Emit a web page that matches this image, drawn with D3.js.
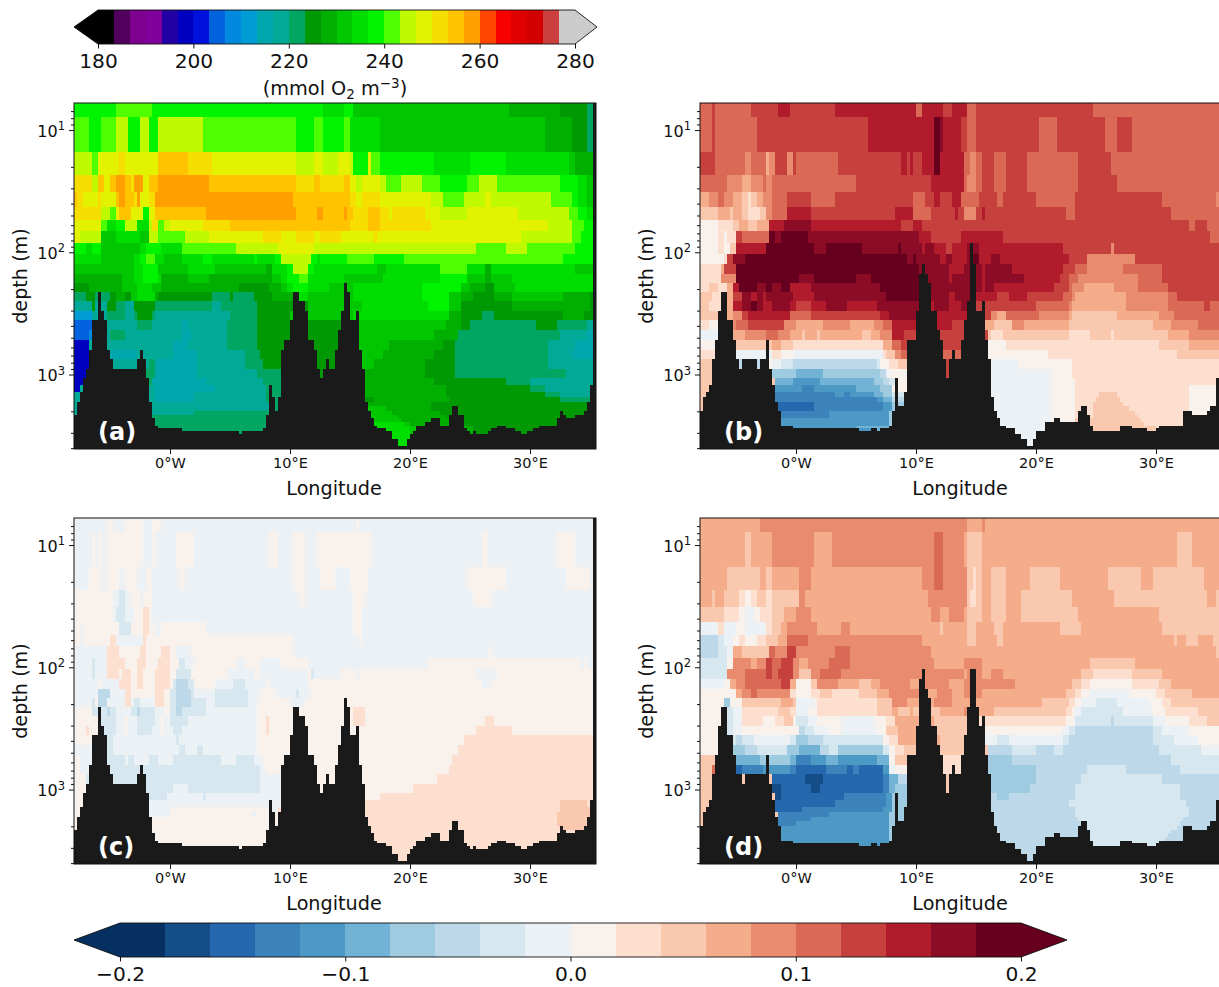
<!DOCTYPE html>
<html><head><meta charset="utf-8">
<style>html,body{margin:0;padding:0;background:#fff}svg{display:block}text{font-family:"DejaVu Sans",sans-serif;fill:#111}</style>
<script src="https://cdnjs.cloudflare.com/ajax/libs/d3/7.8.5/d3.min.js"></script>
</head><body><div id="c"></div>
<script>
// Depth boundaries of the grid rows (metres)
const depthEdges=[6.01,7.78,15.2,23.4,32.4,42.5,54.0,66.9,83.9,102.5,125.4,149.6,178.4,211.4,252.1,302.6,360.9,435.8,519.6,627.6,753.4,904.3,1072,1215,1396,1534,1664,1818,1973,2142,2280,2459,2618,2754,2914,3064,3368,3819,4066];
const lonStart=-8, lonStep=0.25, nCols=174;
const lonTicks=[0,10,20,30];
const lonTickLabels=["0°W","10°E","20°E","30°E"];
const depthTicks=[10,100,1000];
const depthTickExp=["1","2","3"];
const depthMinor=[7,8,9,20,30,40,50,60,70,80,90,200,300,400,500,600,700,800,900,2000,3000,4000];
const oxyTicks=[180,200,220,240,260,280];
const diffTicks=[-0.2,-0.1,0,0.1,0.2];
const diffTickLabels=["−0.2","−0.1","0.0","0.1","0.2"];
const oxyColors=["#000000","#52005e","#7d008e","#7f009a","#2100a6","#0000c1","#0011dd","#0062dd","#0089dd","#009cd6","#00a8ae","#00aa96","#00a662","#009904","#00af00","#00c700","#00de00","#00f400","#4dff00","#c0fa00","#e3f200","#f6de00","#ffc300","#ffa000","#ff4500","#f70000","#e00000","#d20000","#cc3f3f","#cccccc"];
const diffColors=["#053061","#154d89","#2668ae","#3b83ba","#4c99c6","#72b2d5","#9fcbe1","#bdd9e9","#d7e7f0","#ebf1f4","#f8f1ec","#fcdfcf","#fac8af","#f5ac8b","#e98b6e","#da6a55","#c6413e","#b21b2c","#8d0c25","#67001f"];
const binCodes="0123456789abcdefghijklmnopqrst";

// Each row: tokens of colour-bin code + last grid column of the run
const rowsA=[
"h14 i26 h83 g90 h93 f145 e162 d171 c174",
"i5 h9 i14 j18 h22 j25 h28 j43 i74 h80 i83 h90 i92 g102 f157 e166 d171 c174",
"j6 i8 k15 l17 k28 m38 l46 k74 j80 k83 j88 k92 j93 h98 k99 i102 h120 g132 h144 g165 f167 e174",
"l6 j8 m10 k12 m14 n17 m19 l20 n23 k25 m28 n45 m74 l80 m82 l90 m92 k94 j96 k102 j104 i109 j116 i122 h131 i135 j141 i162 h168 g171 f174",
"m1 l3 k8 l9 k14 m15 n17 m20 l21 n22 k25 l27 n73 m92 l94 k96 l102 k119 j123 i130 j137 k139 j159 i166 h168 g171 f174",
"l9 j12 i14 k15 m19 k23 h25 k27 m44 n74 m81 n83 m90 n91 m93 l98 m102 l105 k106 l117 k122 j131 k148 j165 i168 h171 g174",
"k9 i11 g14 h17 j21 g25 j26 l28 i30 j32 k43 l52 m92 l98 m102 l119 k158 j166 i170 h174",
"k2 j9 f14 g22 f25 j28 i37 j45 k63 l69 k74 l80 k82 l89 k100 l101 k149 j166 i169 h174",
"h4 g6 h9 f22 g24 h29 g36 i54 j68 k74 k80 j134 i144 j151 i167 h174",
"g9 f20 g22 h24 i27 g30 f36 g43 h46 g60 h61 g67 h69 j79 h81 g82 h91 i100 h110 i163 h174",
"f20 g23 h28 f38 g47 f64 e66 g71 h73 j78 h80 g101 f104 g122 i131 g137 e139 g167 f174",
"e16 f20 g23 h28 g29 e38 f45 e66 f69 g71 h75 i78 g90 f103 g122 h131 f137 e139 f146 g174",
"d5 e9 e16 f21 g26 f29 e45 e55 d65 e69 f71 g73 h78 g85 f93 g116 h129 f132 e137 d140 f147 g174",
"c4 d7 c12 d14 e17 d19 f21 g27 e28 d46 c52 d53 c60 d66 e73 g78 f93 g116 h125 f129 e133 d140 e146 f163 e172 d174",
"b6 d7 b11 d14 c17 b20 d27 c46 b49 c61 d78 f96 g118 h125 f129 d146 e172 d174",
"96 b11 c17 b20 c21 d26 c27 b52 c61 d72 f93 g125 e129 d136 c140 d163 e170 d174",
"76 b12 b21 c26 b36 a38 b51 c61 d93 f124 e129 d132 c154 d161 c171 b174",
"75 86 b12 c17 b36 a39 b51 c61 d93 f120 e128 c162 b171 a174",
"55 b33 a38 b51 c61 d93 f105 e123 d127 c158 b167 a174",
"55 a21 b33 a41 b57 c62 d93 f103 e120 d127 c158 b166 a174",
"55 b25 c27 a41 b57 c63 d93 f100 e117 d127 c158 b174",
"55 c27 a41 b61 c69 d93 e117 d127 c164 b174",
"55 c26 a44 b63 c69 d93 e120 d144 c152 b174",
"52 b27 a47 b64 c69 d93 e124 d152 c157 b174",
"b27 a40 b64 c69 d93 e124 d157 c162 b174",
"b27 a40 b64 c69 d100 e125 d162 c172 b174",
"b65 c69 e119 d174",
"b65 c69 f104 e119 d174",
"b40 c69 f106 e122 d174",
"c69 f108 e124 d174",
"c69 f109 e125 d174",
"c69 g110 f112 e128 d174",
"c69 g112 f114 e133 d174",
"c69 g112 f116 e133 d174",
"c69 g112 f116 e133 d174",
"c69 g112 f116 e133 d174",
"c69 g112 f116 e133 d174",
"c69 g112 f116 e133 d174"];

const rowsB=[
"f4 g5 f17 g26 h30 g45 h72 f74 h81 g84 h89 f92 g131 f174",
"f4 g5 f19 g56 h78 j80 i81 h87 g89 f92 g113 f119 g135 f139 g144 f174",
"g5 f15 e17 f22 d23 e25 g29 e31 g32 f46 g67 h69 g70 h71 g74 h78 j80 h88 f90 e92 f94 g98 f102 g109 f126 g137 f174",
"f9 e14 d17 e21 f22 e24 f52 g77 h88 f89 e92 f94 g98 f102 g109 f126 g139 f174",
"d3 e6 f8 e11 d14 c16 b17 c19 d21 e24 f29 g37 f45 g71 f75 g78 h80 g84 h87 f93 g99 f101 g112 f125 g154 f172 e174",
"c6 d10 c11 d14 c16 b20 c22 e24 f29 h37 g65 h71 f77 g85 h86 g88 e92 g94 h95 g122 f125 g157 f174",
"a6 b11 c13 d16 c19 d23 h28 i37 h67 g71 h74 g163 f165 g169 f174",
"a6 b8 a9 b12 g14 f23 j25 i27 j36 i73 h77 g87 h101 g170 f174",
"a6 b8 a10 c12 h22 j38 i42 j54 i66 j67 i74 h75 i78 h82 g84 h89 i90 j91 i93 h121 g137 e138 g174",
"a8 b9 g11 i15 j69 i71 j72 i80 h82 i84 h89 i91 j93 h97 i100 h123 g129 e145 g174",
"b7 d8 g12 j73 i83 h88 i94 h95 i104 h121 g125 f129 e141 f154 g174",
"b7 e12 j33 i38 j52 i57 j73 i83 h84 i94 h95 i108 h120 g123 f126 e146 f154 g174",
"b3 c6 b9 d11 h13 j19 i22 j24 i27 j30 h37 i60 j73 i94 h95 i98 h118 g123 f124 e128 d138 e146 f156 g174",
"c4 b8 d11 g14 i17 h19 i21 h22 i31 h38 i62 j74 i83 h85 i90 h99 g103 h109 g121 f124 e125 d142 e156 f159 g174",
"c3 b9 d11 h14 i17 j19 i21 h24 i30 h32 g37 h42 i49 h59 i74 h78 i83 h87 i90 g112 f123 e124 d142 e156 f168 g170 f174",
"c6 d11 e14 g16 h30 f37 g60 h63 i74 h89 g97 e99 d102 f113 e123 d124 c139 d153 e158 f174",
"b3 a9 e12 f16 g28 e32 d41 e50 d58 e61 f64 h84 g90 d98 c104 e108 d123 c151 d157 e166 f174",
"96 d15 e22 f26 e30 d34 c35 d39 c40 d54 c57 d60 e64 h68 g96 c97 b101 c123 b130 c137 b138 c156 d163 e174",
"a5 c24 d27 c31 b61 d64 f67 g96 a102 b153 c163 d174",
"b5 924 b27 a31 961 b62 c65 e67 f96 a116 b159 c174",
"c13 715 a18 720 a24 927 831 759 860 a63 b66 c70 g96 9106 a124 b174",
"c24 632 541 660 762 963 a70 g96 9117 a124 b174",
"c25 531 440 558 661 763 865 a70 g96 9117 a125 b174",
"c25 434 338 452 560 664 a70 g96 9117 a125 b163 a174",
"c25 345 448 350 458 561 664 870 g96 9117 a125 b133 c139 b163 a174",
"c25 359 461 564 770 g96 9117 a125 b132 c140 b163 a174",
"c26 238 361 464 670 g96 9117 a125 b131 c141 b163 a174",
"c26 238 352 361 464 670 g96 9117 a125 b131 c143 b163 a174",
"c27 343 463 670 g96 9117 a125 b131 c145 b163 a174",
"c27 343 463 670 g96 9117 a125 b131 c146 b163 a174",
"c27 463 670 g96 9117 a125 c147 b163 a174",
"c27 463 670 g96 9117 a125 c148 b174",
"c31 452 563 670 g96 9120 a125 c152 b174",
"c31 457 563 670 g96 9120 a125 c152 b174",
"c96 9120 a125 c174",
"9174","9174","9174"];

const rowsC=[
"911 a13 917 a23 926 a29 994 a95 9174",
"96 a7 98 a9 911 a23 926 a27 934 a40 965 a68 973 a77 981 a99 9136 a138 9161 a167 9174",
"95 a9 911 a15 917 a21 924 a26 935 a37 973 a77 982 a87 992 a98 9131 a144 9164 a172 9174",
"a13 915 817 919 a22 923 a26 975 a77 993 a97 9133 a139 9174",
"a13 914 817 920 a23 b25 a26 993 a96 9174",
"a2 93 a15 819 a23 b25 a27 929 a44 993 a96 9174",
"a2 93 a12 b14 923 b24 a73 995 a96 9174",
"911 b15 a22 b24 a29 b32 a34 939 a73 9138 a139 9174",
"96 87 911 b17 a21 b24 a28 b32 a35 837 940 a54 957 a62 969 a78 9118 a169 9170 a171 9174",
"96 87 911 b15 a16 b19 a21 b23 a27 b32 a34 839 a51 960 a62 978 a79 880 989 a94 995 a134 9141 a174",
"98 a9 915 b19 a21 b23 a27 b32 a33 834 738 840 a47 953 857 964 a65 978 a136 9139 a174",
"98 712 917 b19 a27 b30 a32 834 739 840 947 858 962 a67 974 875 979 a174",
"96 87 a8 711 917 b19 920 822 927 b30 a32 834 739 844 947 858 961 a72 977 a174",
"a6 811 712 814 919 821 722 827 930 a32 834 736 844 961 a93 b97 a174",
"a9 814 917 a18 921 827 929 a30 932 838 961 a64 b65 a93 b97 a137 b140 a174",
"a4 b5 a9 814 917 a18 921 826 929 a30 933 836 961 a64 b65 a134 b146 a174",
"a9 813 934 835 961 a130 b174",
"96 813 935 837 941 843 961 a128 b174",
"a2 96 817 918 820 925 828 933 849 954 860 963 a126 b174",
"a2 96 862 964 a125 b174",
"a4 862 969 a121 b174",
"a24 833 938 862 969 a113 b174",
"a25 831 943 844 969 a102 b174",
"a25 969 b162 c171 b174",
"a25 932 a66 968 b162 c172 b174",
"a25 932 a59 961 a69 b161 c172 b174",
"a70 b161 c171 b174",
"a70 b161 c171 b174",
"a70 b163 c170 b174",
"a70 b174","a70 b174","a70 b174","a70 b174","a70 b174","a70 b174","a70 b174","a70 b174","a70 b174"];

const rowsD=[
"d20 e89 d94 e95 d174",
"d15 c17 d24 e38 d44 e78 f81 e88 d89 c94 d159 c164 d174",
"d9 c20 d22 c24 d33 e37 d74 e78 f81 e89 c91 b92 c94 d97 c102 d110 c120 d136 c147 d151 c168 d174",
"d4 c5 d8 c13 b15 a17 b19 c22 b24 c33 e35 d76 e89 c90 b92 c94 d97 c102 d107 c124 d138 c169 d172 c174",
"c8 b13 a15 918 a20 b24 c28 d32 e37 d77 e80 d83 e88 d89 c94 d97 c102 d107 c126 d153 c174",
"96 b8 912 a15 922 b24 c27 d29 e39 d47 e50 d80 c81 d89 c92 d98 c101 d120 c127 d154 c174",
"76 88 911 a13 b15 a19 b22 c26 d29 f36 e74 d89 c92 d99 c101 d158 c159 d162 c166 d171 c174",
"76 89 911 d14 c23 f25 e29 g32 e45 f50 e77 d172 c174",
"89 a11 e17 d19 e22 g24 f27 g31 e33 d36 e43 f50 e78 d88 e94 d130 c145 d174",
"89 e15 f22 g24 f26 g31 e33 c37 e40 f47 e88 d89 e94 d97 e101 d127 c131 b144 c154 d174",
"98 a10 d12 e15 f27 g30 d32 a37 c39 e46 d53 c57 d60 e70 d75 e83 d88 e105 d124 c127 b130 a144 b153 c157 d174",
"a12 d14 e17 f19 e30 b32 a37 b40 c44 b53 c59 d63 e76 d79 e84 d88 e94 d122 c125 b127 a130 9143 a152 b155 c164 d174",
"a8 610 a14 c27 d31 c32 938 a39 b59 c64 e69 d78 e84 d114 c123 b125 a127 9132 8139 9150 a154 b157 c174",
"a8 811 914 b26 c30 b32 936 a39 b59 c64 d66 c70 d71 c80 d88 e90 d98 c122 b124 a125 9127 8141 9151 a155 b166 c174",
"a8 811 914 b21 a25 b28 c31 a32 836 939 a47 958 a62 b65 d78 c90 b122 a125 8137 7138 8151 9155 a163 b169 c174",
"a8 811 914 a31 a33 735 838 943 a47 959 a62 c66 d78 c90 a121 9123 8125 7151 8154 9163 a174",
"a8 812 714 818 930 832 636 741 861 a63 b66 d80 c90 999 8103 9121 8123 7151 8158 9166 a174",
"a9 615 719 829 633 540 743 846 661 863 a65 b68 c96 7104 8112 7118 8121 7153 8167 9174",
"c5 412 520 623 630 532 337 442 546 459 563 a65 c70 b96 6104 7157 8174",
"c4 f5 214 321 430 332 242 349 251 353 261 463 965 a70 b96 6112 7129 8142 7160 8174",
"c13 114 c24 235 141 261 363 566 769 c96 6112 7127 8154 7174",
"c24 127 237 140 261 363 565 669 c96 6110 7125 8160 7174",
"c25 127 248 362 464 670 c96 799 6103 7125 8160 7174",
"c25 245 362 464 670 c96 7123 8162 7174",
"c25 234 361 464 670 c96 7125 8163 7174",
"c26 343 463 670 c96 7125 8163 7174",
"c26 337 463 670 c96 7126 8161 7174",
"c26 332 463 670 c96 7127 8160 7174",
"c27 463 670 c96 7127 8159 7174",
"c27 463 670 c96 7129 8157 7174",
"c27 463 670 c96 7130 8156 7174",
"c27 463 670 c96 7130 8155 7174",
"c31 463 670 c96 7130 8154 7174",
"c31 463 670 c96 7130 8154 7174",
"c96 7174","7174","7174","7174"];

// Sea floor: [last grid column, index into depthEdges of the floor]
const bathyAC=[[1,29],[2,26],[3,24],[4,22],[5,21],[6,19],[8,16],[9,13],[10,15],[11,16],[12,19],[13,20],[21,21],[22,20],[23,19],[24,20],[25,22],[26,26],[27,30],[28,32],[36,33],[55,34],[56,35],[63,34],[64,33],[65,29],[66,23],[67,25],[68,28],[69,25],[70,19],[72,18],[73,16],[75,13],[77,14],[78,15],[80,18],[81,19],[82,21],[83,22],[84,21],[85,20],[87,21],[88,19],[89,17],[90,15],[91,12],[92,13],[94,16],[95,15],[96,19],[97,21],[98,26],[99,28],[100,30],[101,32],[104,33],[106,34],[108,36],[111,37],[112,36],[113,35],[114,34],[117,32],[119,31],[122,30],[125,32],[126,29],[128,27],[130,29],[131,33],[132,34],[133,35],[134,34],[138,35],[139,34],[141,33],[144,32],[147,33],[149,34],[151,35],[153,34],[155,33],[161,32],[162,30],[163,28],[164,29],[167,30],[170,29],[171,28],[172,26],[173,23],[174,0]];
const bathyB=[[1,28],[2,25],[3,24],[4,23],[5,20],[6,18],[7,15],[9,13],[11,16],[12,18],[13,20],[14,21],[19,20],[20,21],[22,20],[23,18],[24,21],[25,23],[26,26],[27,28],[31,32],[53,33],[57,34],[59,33],[60,34],[63,33],[64,32],[65,28],[66,22],[68,27],[69,24],[72,18],[73,15],[74,11],[75,10],[76,11],[77,12],[79,15],[80,17],[81,18],[82,20],[83,22],[84,20],[85,19],[87,20],[88,18],[89,16],[90,14],[91,8],[92,10],[94,15],[95,14],[96,18],[97,20],[98,25],[99,28],[100,30],[102,32],[105,33],[107,35],[109,36],[111,37],[112,36],[115,34],[118,31],[120,30],[126,31],[127,28],[129,27],[130,29],[131,32],[140,34],[144,32],[149,33],[152,34],[153,33],[161,32],[164,28],[169,29],[170,28],[172,27],[173,22],[174,0]];
const bathyD=[[1,28],[2,25],[3,24],[4,23],[5,20],[6,18],[7,15],[9,13],[11,16],[12,18],[14,20],[15,21],[22,20],[23,18],[24,21],[25,23],[26,26],[27,28],[31,32],[53,33],[57,34],[59,33],[60,34],[63,33],[64,32],[65,28],[66,22],[68,27],[69,24],[72,18],[73,15],[74,10],[75,9],[76,11],[77,12],[79,15],[80,17],[81,18],[82,20],[83,22],[84,20],[85,19],[87,20],[88,18],[89,16],[90,13],[92,9],[93,13],[94,15],[95,14],[96,18],[97,20],[98,25],[99,28],[100,30],[102,32],[105,33],[107,35],[109,36],[111,37],[112,36],[115,34],[118,31],[120,30],[126,31],[127,28],[129,27],[130,29],[131,32],[140,34],[144,32],[149,33],[152,34],[153,33],[161,32],[164,28],[169,29],[170,28],[172,27],[173,23],[174,0]];

const W=1219,H=987,PW=522,PH=346;
const svg=d3.select("#c").append("svg").attr("width",W).attr("height",H).attr("viewBox",`0 0 ${W} ${H}`);
const INK="#111";
const oxyScale=d3.scaleQuantize().domain([180,280]).range(oxyColors);
const diffScale=d3.scaleQuantize().domain([-0.2,0.2]).range(diffColors);
const oxyVal=i=>180+(i+.5)*100/30, diffVal=i=>-0.2+(i+.5)*0.02;
const colToLon=c=>lonStart+c*lonStep;

function parse(rows){
  const out=[];
  rows.forEach((r,ri)=>{let s=0;r.split(" ").forEach(t=>{const e=+t.slice(1);if(e>s){out.push({r:ri,c0:s,c1:e,b:binCodes.indexOf(t[0])});s=e;}});});
  return out;
}
function panel(cfg){
  const x=d3.scaleLinear().domain([colToLon(0),colToLon(nCols)]).range([cfg.x,cfg.x+PW]);
  const y=d3.scaleLog().domain([depthEdges[0],depthEdges[depthEdges.length-1]]).range([cfg.y,cfg.y+PH]);
  const g=svg.append("g");
  g.append("g").attr("shape-rendering","crispEdges").selectAll("rect").data(parse(cfg.rows)).join("rect")
    .attr("x",d=>x(colToLon(d.c0))).attr("width",d=>x(colToLon(d.c1))-x(colToLon(d.c0)))
    .attr("y",d=>y(depthEdges[d.r])).attr("height",d=>y(depthEdges[d.r+1])-y(depthEdges[d.r]))
    .attr("fill",d=>cfg.color(cfg.val(d.b)));
  let s=0;const floor=cfg.bathy.map(([e,l])=>{const o={c0:s,c1:e,l};s=e;return o;});
  g.append("g").attr("shape-rendering","crispEdges").selectAll("rect").data(floor).join("rect")
    .attr("x",d=>x(colToLon(d.c0))).attr("width",d=>x(colToLon(d.c1))-x(colToLon(d.c0)))
    .attr("y",d=>y(depthEdges[d.l])).attr("height",d=>cfg.y+PH-y(depthEdges[d.l])).attr("fill","#1a1a1a");
  g.append("rect").attr("x",cfg.x).attr("y",cfg.y).attr("width",PW).attr("height",PH).attr("fill","none").attr("stroke",INK).attr("stroke-width",1);
  const ax=g.append("g").attr("transform",`translate(0,${cfg.y+PH})`)
    .call(d3.axisBottom(x).tickValues(lonTicks).tickSize(5).tickPadding(4).tickFormat((d,i)=>lonTickLabels[i]));
  ax.select(".domain").remove();ax.selectAll("text").attr("font-size",14.5).style("font-family",'"DejaVu Sans"').attr("fill",INK);
  ax.selectAll("line").attr("stroke",INK);
  const am=g.append("g").attr("transform",`translate(${cfg.x},0)`).call(d3.axisLeft(y).tickValues(depthMinor).tickSize(3).tickFormat(""));
  am.select(".domain").remove();am.selectAll("line").attr("stroke",INK);
  const ay=g.append("g").attr("transform",`translate(${cfg.x},0)`).call(d3.axisLeft(y).tickValues(depthTicks).tickSize(5).tickPadding(4).tickFormat(""));
  ay.select(".domain").remove();ay.selectAll("line").attr("stroke",INK);
  ay.selectAll("text").attr("font-size",16).attr("dy","0.4em").attr("text-anchor","end").attr("fill",INK).each(function(d,i){
    const t=d3.select(this);t.text("");t.append("tspan").text("10");
    t.append("tspan").attr("font-size",11.5).attr("dy","-0.6em").text(depthTickExp[i]);
  });
  g.append("text").attr("x",cfg.x+PW/2-1).attr("y",cfg.y+PH+46).attr("text-anchor","middle").attr("font-size",19.2).text("Longitude");
  g.append("text").attr("transform",`translate(${cfg.x-47},${cfg.y+PH/2}) rotate(-90)`).attr("text-anchor","middle").attr("font-size",19.2).text("depth (m)");
  g.append("text").attr("x",cfg.x+24).attr("y",cfg.y+PH-9).attr("font-size",24).attr("font-weight","bold").style("fill","#fff").text(cfg.label);
}
panel({x:74,y:103,rows:rowsA,bathy:bathyAC,color:oxyScale,val:oxyVal,label:"(a)"});
panel({x:700,y:103,rows:rowsB,bathy:bathyB,color:diffScale,val:diffVal,label:"(b)"});
panel({x:74,y:518,rows:rowsC,bathy:bathyAC,color:diffScale,val:diffVal,label:"(c)"});
panel({x:700,y:518,rows:rowsD,bathy:bathyD,color:diffScale,val:diffVal,label:"(d)"});

function colorbar(c){
  const x=d3.scaleLinear().domain(c.domain).range([c.x0,c.x1]);
  const step=(c.domain[1]-c.domain[0])/c.colors.length;
  const g=svg.append("g"),mid=(c.y0+c.y1)/2;
  g.append("g").attr("shape-rendering","crispEdges").selectAll("rect").data(c.colors).join("rect")
    .attr("x",(d,i)=>x(c.domain[0]+i*step)).attr("width",(d,i)=>x(c.domain[0]+(i+1)*step)-x(c.domain[0]+i*step)+.5)
    .attr("y",c.y0).attr("height",c.y1-c.y0).attr("fill",d=>d);
  g.append("path").attr("d",`M${c.x0},${c.y0}L${c.tipL},${mid}L${c.x0},${c.y1}Z`).attr("fill",c.colors[0]);
  g.append("path").attr("d",`M${c.x1},${c.y0}L${c.tipR},${mid}L${c.x1},${c.y1}Z`).attr("fill",c.colors[c.colors.length-1]);
  g.append("path").attr("d",`M${c.x0},${c.y0}L${c.tipL},${mid}L${c.x0},${c.y1}L${c.x1},${c.y1}L${c.tipR},${mid}L${c.x1},${c.y0}Z`).attr("fill","none").attr("stroke",INK).attr("stroke-width",.9);
  const a=g.append("g").attr("transform",`translate(0,${c.y1})`).call(d3.axisBottom(x).tickValues(c.ticks).tickSize(4.5).tickPadding(5).tickFormat((d,i)=>c.labels[i]));
  a.select(".domain").remove();a.selectAll("line").attr("stroke",INK);
  a.selectAll("text").attr("font-size",20.2).attr("fill",INK);
}
colorbar({domain:[180,280],x0:98,x1:575,tipL:74,tipR:597,y0:10,y1:44,colors:oxyColors,ticks:oxyTicks,labels:oxyTicks.map(String)});
colorbar({domain:[-0.2,0.2],x0:120,x1:1021,tipL:74,tipR:1067,y0:923,y1:957,colors:diffColors,ticks:diffTicks,labels:diffTickLabels});
const u=svg.append("text").attr("x",335).attr("y",95).attr("text-anchor","middle").attr("font-size",19.3);
u.append("tspan").text("(mmol O");
u.append("tspan").attr("font-size",13.5).attr("dy",4).text("2");
u.append("tspan").attr("dy",-4).text(" m");
u.append("tspan").attr("font-size",13.5).attr("dy",-7).text("−3");
u.append("tspan").attr("dy",7).text(")");
</script></body></html>
